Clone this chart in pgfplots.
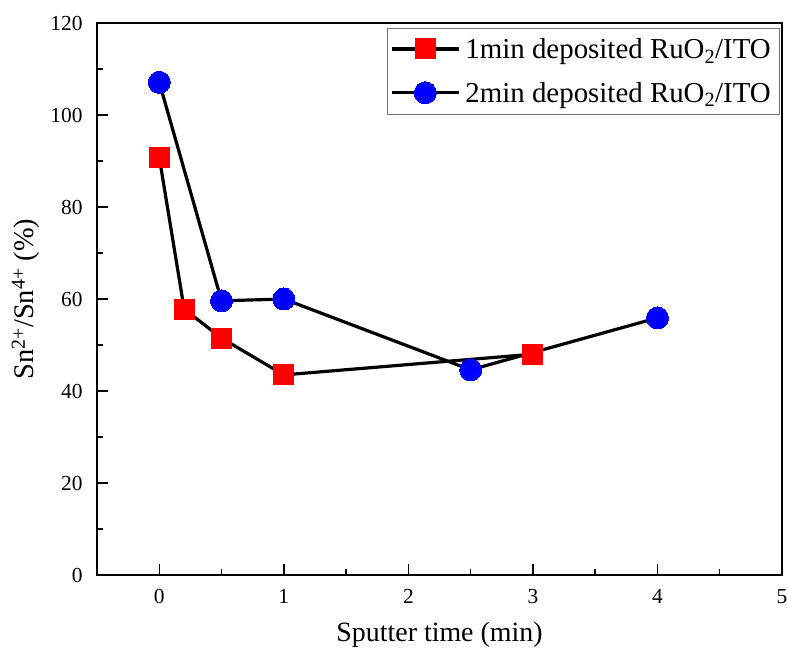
\documentclass[border=0pt]{standalone}
\usepackage{fontspec}
\setmainfont{Liberation Serif}
\usepackage{pgfplots}
\pgfplotsset{compat=1.18}
\begin{document}
\begin{tikzpicture}[x=1bp,y=1bp]
\path[use as bounding box] (-97,-79) rectangle (690,575);
\begin{axis}[
  at={(0,0)}, anchor=south west,
  scale only axis,
  width=685bp, height=552bp,
  xmin=-0.5, xmax=5, ymin=0, ymax=120,
  xtick={0,1,2,3,4,5}, ytick={0,20,40,60,80,100,120},
  minor x tick num=1, minor y tick num=1,
  xtick pos=bottom, ytick pos=left,
  tick align=inside,
  major tick length=11bp, minor tick length=6bp,
  axis line style={line width=1.5bp},
  every tick/.style={black, line width=1.5bp},
  /pgf/number format/assume math mode=true,
  tick label style={font=\fontsize{21.5}{24}\selectfont},
  xticklabel style={yshift=-11bp},
  yticklabel style={xshift=-11bp},
  xlabel={Sputter time (min)},
  ylabel={Sn\textsuperscript{2+}/Sn\textsuperscript{4+} (\%)},
  xlabel style={font=\fontsize{28}{32}\selectfont, at={(axis description cs:0.5,-0.1196)}, anchor=base},
  ylabel style={font=\fontsize{28.5}{32}\selectfont, at={(axis description cs:-0.104,0.5)}, anchor=center},
  legend style={at={(1,1)}, anchor=north east, xshift=-3bp, yshift=-5bp, draw=black!55,
    font=\fontsize{29}{32}\selectfont, row sep=22bp, inner xsep=3bp, inner ysep=10bp,
    nodes={inner xsep=5bp, inner ysep=0bp}},
  legend cell align=left,
  legend image code/.code={
    \draw[black, line width=3.2bp] (0bp,0bp) -- (67bp,0bp);
    \draw[#1, mark repeat=2, mark phase=2] plot coordinates {(0bp,0bp) (33.5bp,0bp) (67bp,0bp)};
  },
]
\addplot[black, line width=3.2bp, mark=square*, mark size=10bp,
  mark options={draw=red, fill=red, line width=0pt}]
  coordinates {(0,90.8) (0.2,57.8) (0.5,51.5) (1,43.5) (3,48.0)};
\addlegendentry{1min deposited RuO\textsubscript{2}/ITO}
\addplot[black, line width=3.2bp, mark=*, mark size=11bp,
  mark options={draw=blue, fill=blue, line width=0pt}]
  coordinates {(0,107.1) (0.5,59.6) (1,60.0) (2.5,44.6) (4,55.9)};
\addlegendentry{2min deposited RuO\textsubscript{2}/ITO}
\end{axis}
\end{tikzpicture}
\end{document}
